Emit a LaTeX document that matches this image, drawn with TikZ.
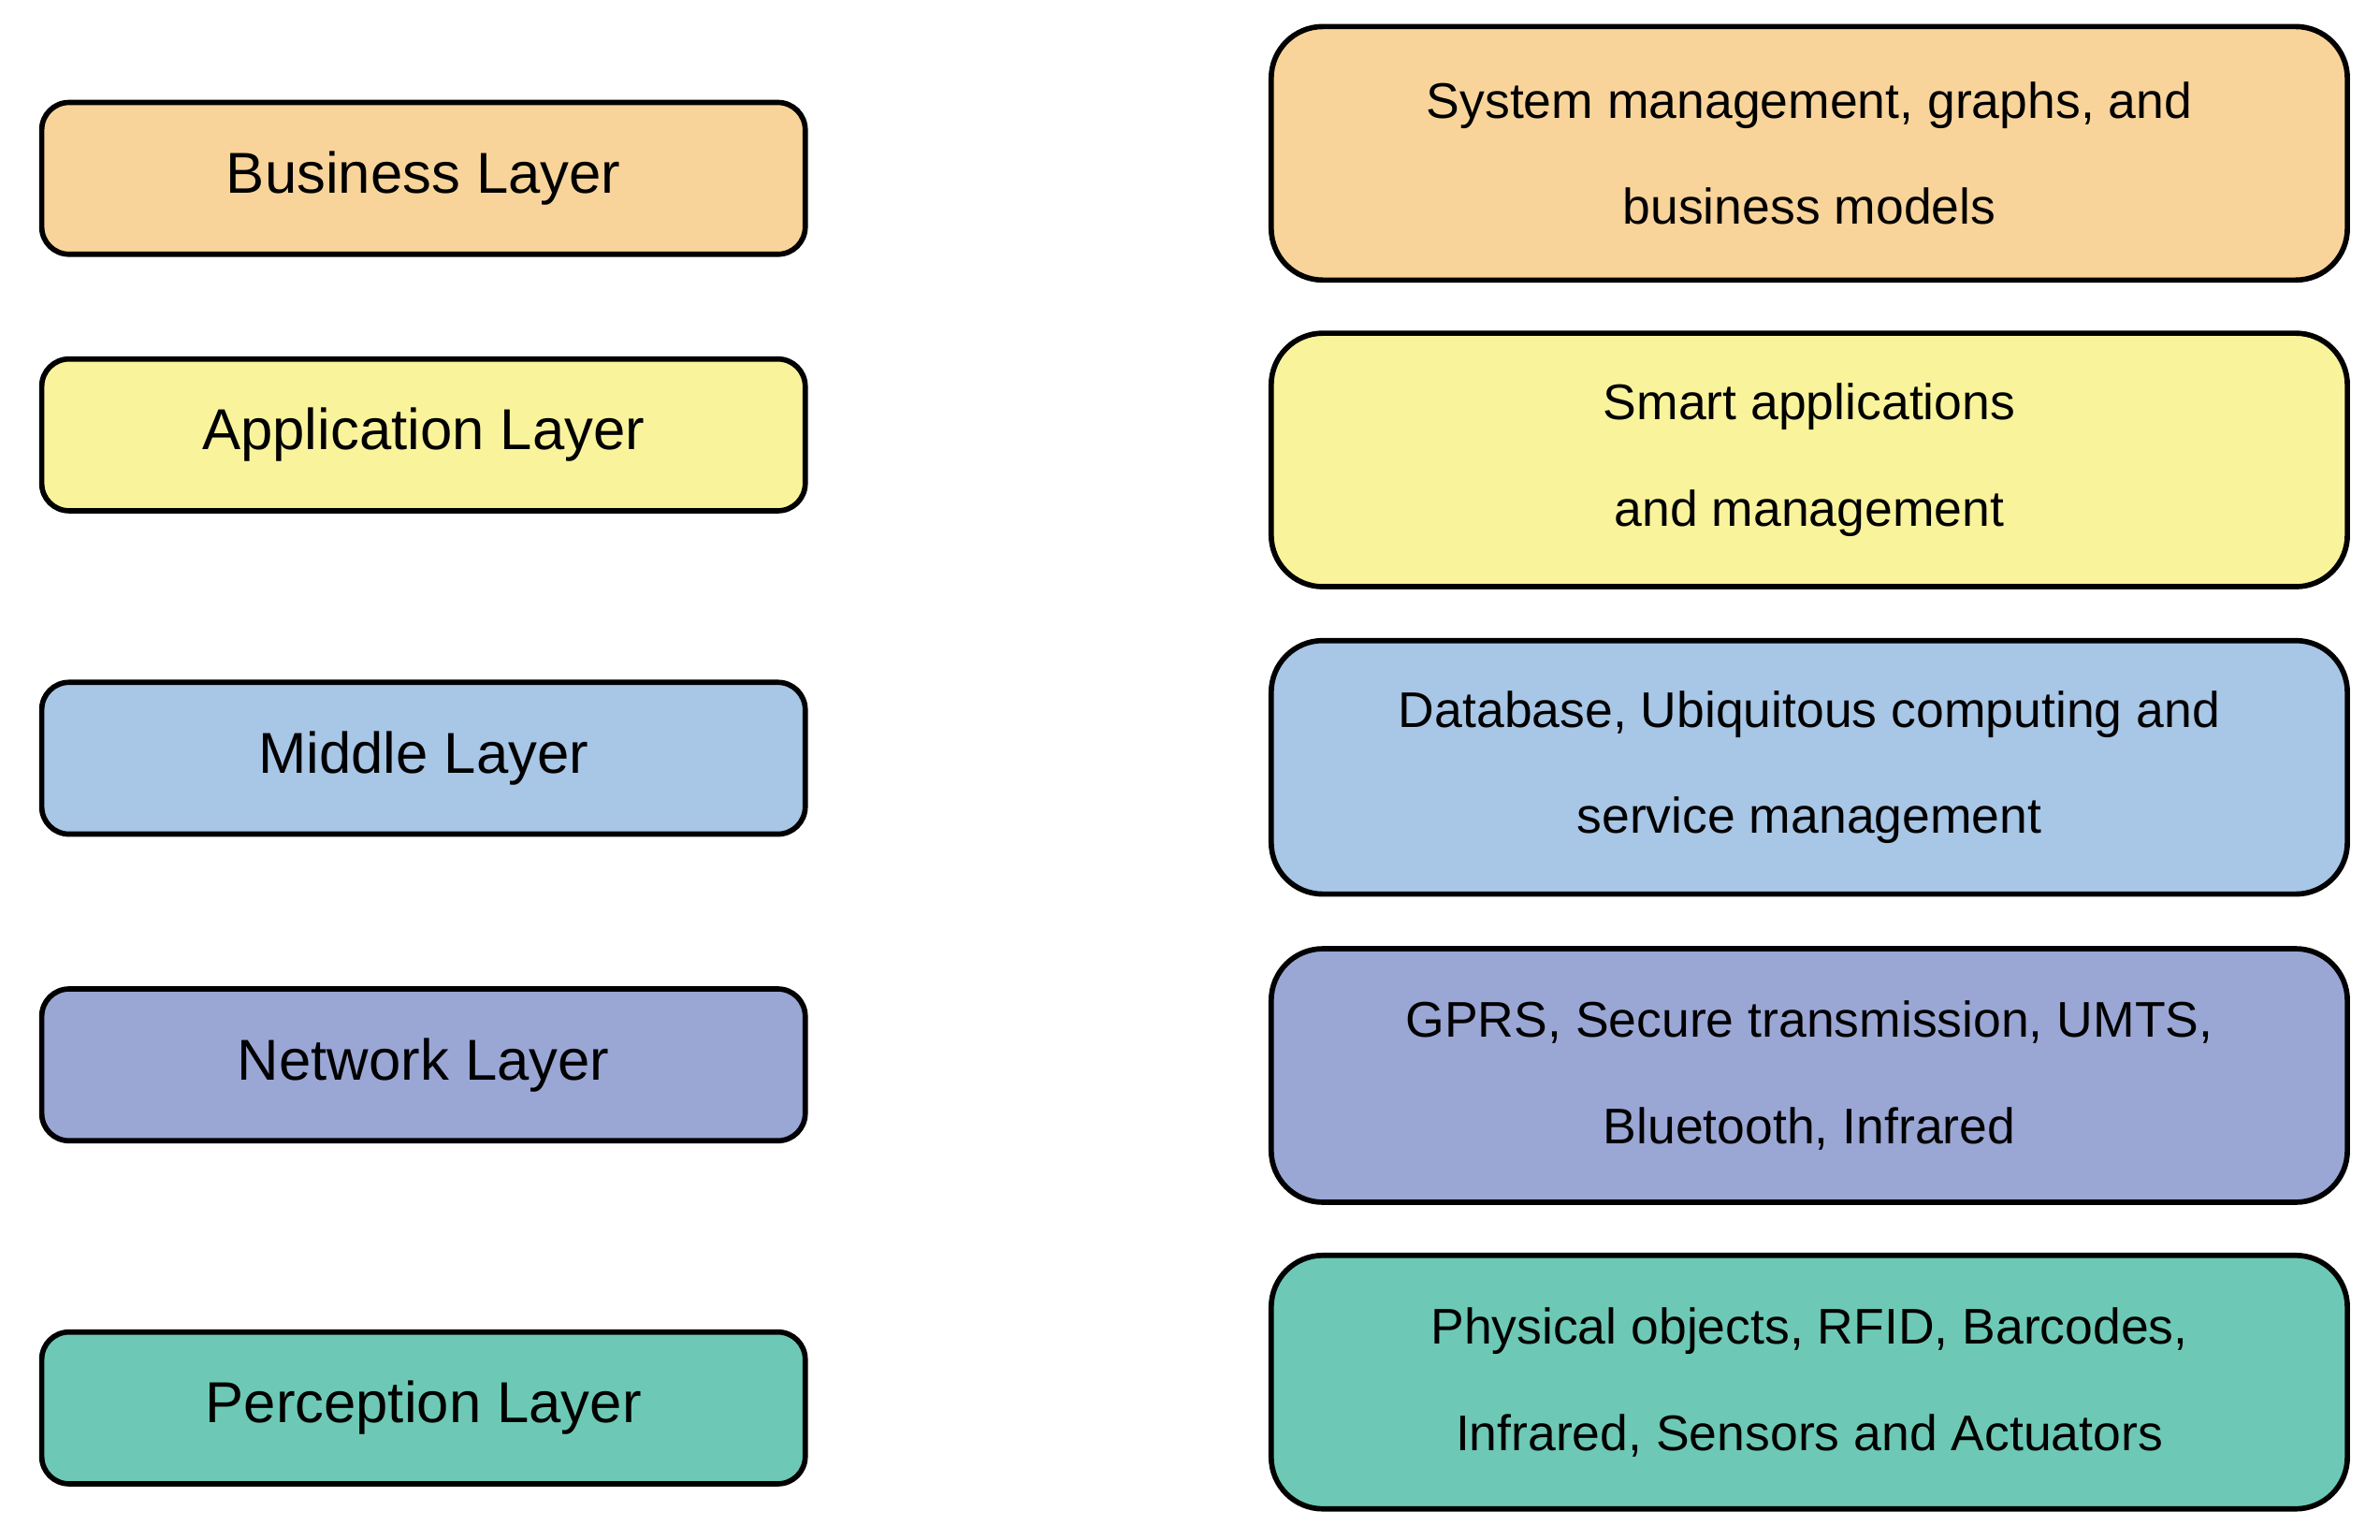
\documentclass[tikz,border=0pt]{standalone}
\usepackage{fontspec}
\setmainfont{Liberation Sans}
\begin{document}
\begin{tikzpicture}[x=1pt,y=-1pt,
  lbox/.style={draw=black,line width=3.5pt,rounded corners=18pt,minimum width=503pt,minimum height=100pt,font=\fontsize{38}{46}\selectfont,inner sep=0pt},
  rbox/.style={draw=black,line width=3.5pt,rounded corners=34pt,minimum width=709pt,minimum height=167pt,font=\fontsize{33}{70}\selectfont,align=center,inner sep=0pt},
  arr/.style={draw=black,line width=3.5pt,fill=white,line join=miter}]
\useasboundingbox (0,0) rectangle (1568,1014);
\definecolor{cB}{HTML}{F9D49A}\definecolor{cA}{HTML}{F9F39C}\definecolor{cM}{HTML}{A8C6E6}
\definecolor{cN}{HTML}{9AA7D5}\definecolor{cP}{HTML}{6DC9B5}
\newcommand{\layerarrow}[2]{%
  \coordinate (#1) at (566,#2);
  \fill[black] ($(#1)+(0,-21)$) rectangle ($(#1)+(9,21)$);
  \fill[black] ($(#1)+(12,-21)$) rectangle ($(#1)+(24,21)$);
  \draw[arr] ($(#1)+(24,-21)$) -- ($(#1)+(144,-21)$) -- ($(#1)+(144,-42)$) -- ($(#1)+(240,0)$) -- ($(#1)+(144,42)$) -- ($(#1)+(144,21)$) -- ($(#1)+(24,21)$);
}
\node[lbox,fill=cB] (l1) at (279,117.5) {Business Layer};
\node[lbox,fill=cA] (l2) at (279,286.5) {Application Layer};
\node[lbox,fill=cM] (l3) at (279,499.5) {Middle Layer};
\node[lbox,fill=cN] (l4) at (279,701.5) {Network Layer};
\node[lbox,fill=cP] (l5) at (279,927.5) {Perception Layer};
\node[rbox,fill=cB] (r1) at (1192,101) {System management, graphs, and\\business models};
\node[rbox,fill=cA] (r2) at (1192,303) {Smart applications\\and management};
\node[rbox,fill=cM] (r3) at (1192,505.5) {Database, Ubiquitous computing and\\service management};
\node[rbox,fill=cN] (r4) at (1192,708.5) {GPRS, Secure transmission, UMTS,\\Bluetooth, Infrared};
\node[rbox,fill=cP] (r5) at (1192,910.5) {Physical objects, RFID, Barcodes,\\Infrared, Sensors and Actuators};
\end{tikzpicture}
\end{document}
